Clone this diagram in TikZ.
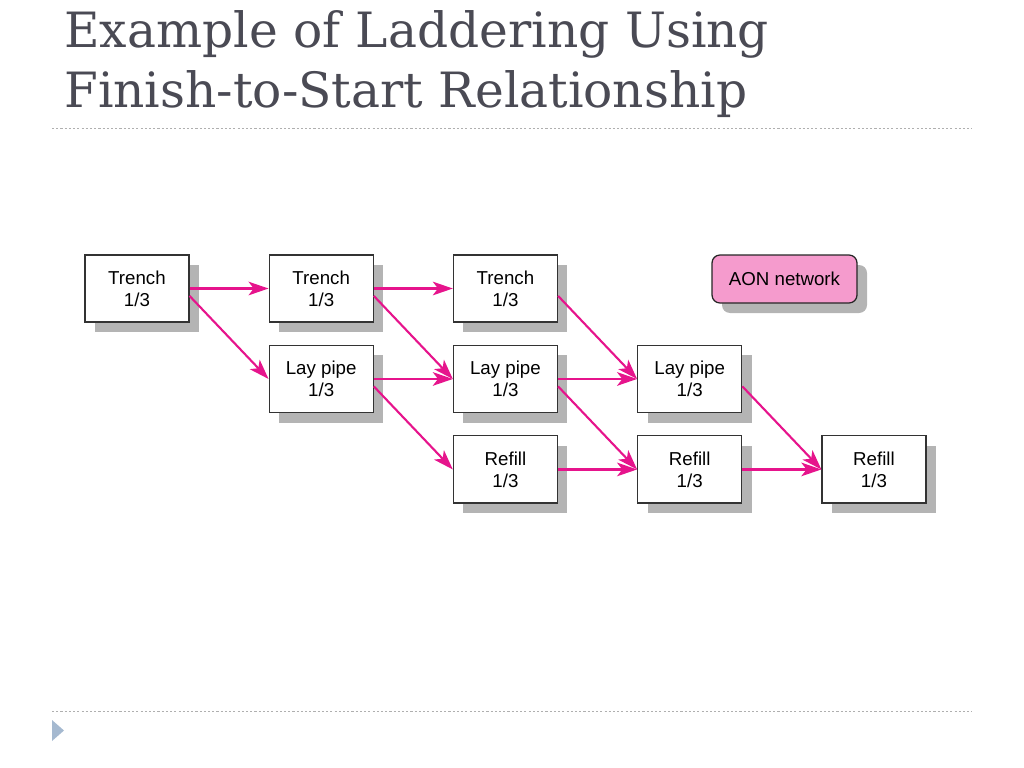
\documentclass[tikz,border=0pt]{standalone}
\usepackage{fontspec}
\setmainfont{Liberation Sans}
\newfontfamily\titlefont{DejaVu Serif}
\usetikzlibrary{matrix,positioning,shadows,arrows.meta}

\definecolor{arrowpink}{RGB}{230,20,140}
\definecolor{aonpink}{RGB}{245,155,205}
\definecolor{titlegray}{RGB}{74,74,84}
\definecolor{rulegray}{RGB}{175,175,175}
\definecolor{markblue}{RGB}{165,185,208}
\definecolor{boxshadow}{RGB}{180,180,180}

\begin{document}
\begin{tikzpicture}[
		shadowed/.style={
			drop shadow={shadow xshift=0.25cm,shadow yshift=-0.25cm,fill=boxshadow,opacity=1}
		},
		task/.style={
			draw=black!80,
			line width=0.9pt,
			fill=white,
			shadowed,
			minimum width=2.6cm,
			minimum height=1.68cm,
			inner sep=0pt,
			font=\fontsize{13.3}{15.5}\selectfont
		},
		net/.style={
			matrix of nodes,
			nodes={task},
			column sep=1.975cm,
			row sep=0.55cm,
			inner sep=0pt
		},
		aon/.style={draw=black!85,line width=0.9pt,fill=aonpink,rounded corners=0.2cm,
			minimum width=3.625cm,minimum height=1.2cm,shadowed,font=\fontsize{13.3}{15.5}\selectfont
		},
		title/.style={font=\titlefont\fontsize{34.6}{40}\selectfont,text=titlegray,inner sep=0pt},
		rule/.style={draw=rulegray,line width=0.6pt,dash pattern=on 1.5pt off 1.5pt},
		link/.style={draw=arrowpink,line width=1.5pt,-{Stealth[length=0.5cm,width=0.34cm,inset=0.13cm]}}
		]
		\useasboundingbox (0,0) rectangle (25.6,-19.2);
		% title and rules
		\node[title,anchor=base west] (title1) at (1.6,-1.2) {Example of Laddering Using};
		\node[title,anchor=base west] (title2) at (1.6,-2.7) {Finish-to-Start Relationship};
		\draw[rule] (1.3,-3.2) -- (24.3,-3.2);
		\draw[rule] (1.3,-17.775) -- (24.3,-17.775);
		\fill[markblue] (1.3,-18.0) -- (1.3,-18.525) -- (1.6,-18.2625) -- cycle;
		\matrix[net,anchor=north west] (mat) at (2.1,-6.35)
		{
			\parbox{2.4cm}{\centering Trench\\1/3} & \parbox{2.4cm}{\centering Trench\\1/3} & \parbox{2.4cm}{\centering Trench\\1/3} & & \\
			& \parbox{2.4cm}{\centering Lay pipe\\1/3} & \parbox{2.4cm}{\centering Lay pipe\\1/3} & \parbox{2.4cm}{\centering Lay pipe\\1/3} & \\
			& & \parbox{2.4cm}{\centering Refill\\1/3} & \parbox{2.4cm}{\centering Refill\\1/3} & \parbox{2.4cm}{\centering Refill\\1/3} \\
		};
		\node[aon] (net) at (19.6125,-6.975) {AON network};
		% same row links
		\foreach \r/\c/\n in {1/1/2,1/2/3,2/2/3,2/3/4,3/3/4,3/4/5}
			\draw[link] (mat-\r-\c) -- (mat-\r-\n);
		% next row links
		\foreach \r/\c in {1/1,1/2,2/2,1/3,2/3,2/4}
			{\pgfmathtruncatemacro\rr{\r+1}
			\pgfmathtruncatemacro\cc{\c+1}
			\draw[link] (mat-\r-\c.-8) -- (mat-\rr-\cc.west);
			}
\end{tikzpicture}
\end{document}
